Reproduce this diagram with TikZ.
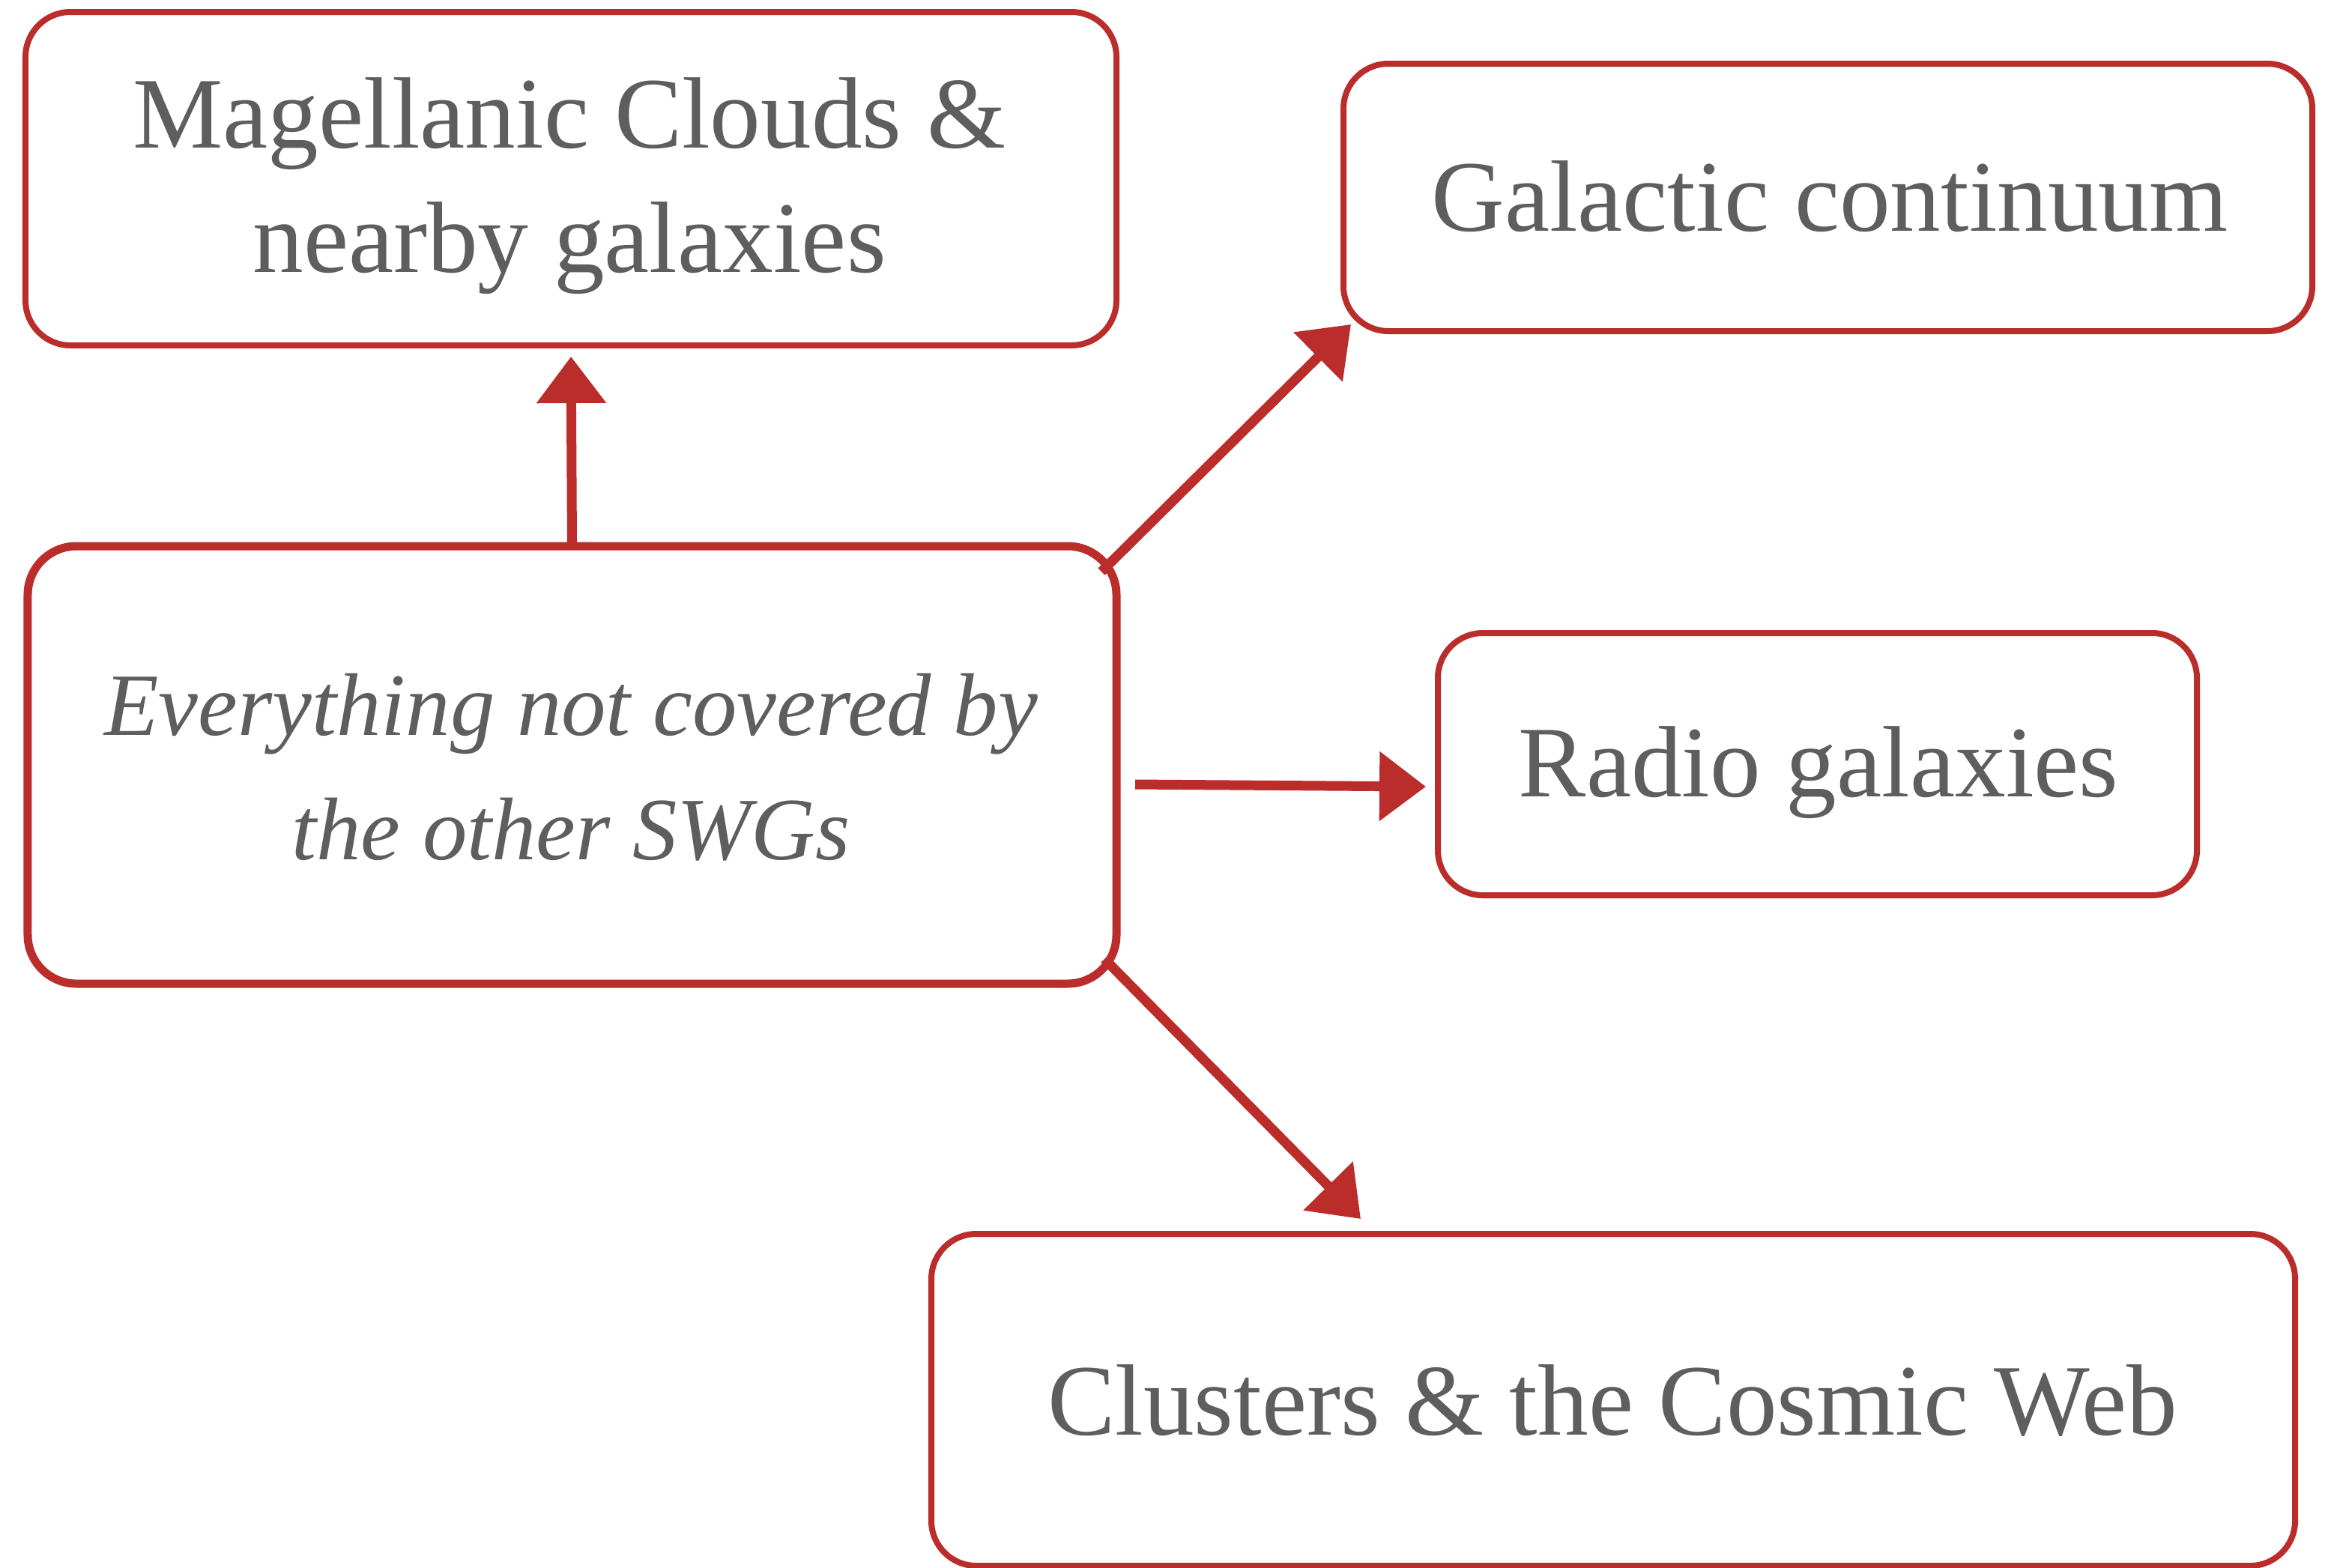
\documentclass[tikz,border=0pt]{standalone}
\usepackage{fontspec}
\setmainfont{Liberation Serif}
\usetikzlibrary{arrows.meta,calc}
\definecolor{brush}{HTML}{BA2D2B}
\definecolor{ink}{HTML}{5E5E5E}

\begin{document}
\begin{tikzpicture}[
  box/.style={draw=brush, line width=0.08cm, rounded corners=0.6cm,
              inner sep=0pt, outer sep=0pt},
  txt/.style={text=ink, font=\fontsize{38.5}{47}\selectfont, inner sep=0pt,
              align=center},
  link/.style={draw=brush, line width=0.13cm,
               -{Triangle[length=0.62cm,width=0.9cm]}},
]
\useasboundingbox (0,0) rectangle (31.15,-20.92);
\fill[white] (0,0) rectangle (31.15,-20.92);

% frames
\node[box, minimum width=14.56cm, minimum height=4.45cm] (mag) at (7.62,-2.385) {};
\node[box, minimum width=12.93cm, minimum height=3.57cm] (gal) at (24.395,-2.635) {};
\node[box, line width=0.11cm, rounded corners=0.65cm,
      minimum width=14.53cm, minimum height=5.84cm] (every) at (7.635,-10.21) {};
\node[box, minimum width=10.13cm, minimum height=3.50cm] (radio) at (24.255,-10.20) {};
\node[box, minimum width=18.20cm, minimum height=4.43cm] (clus) at (21.53,-18.685) {};

% labels (base anchor sits on the last line)
\node[txt, anchor=base] (magT) at (7.60,-3.63) {Magellanic Clouds \&\\nearby galaxies};
\node[txt, anchor=base] (galT) at (24.42,-3.08) {Galactic continuum};
\node[txt, anchor=base, font=\fontsize{33.8}{47}\selectfont\itshape] (everyT) at (7.62,-11.47)
  {Everything not covered by\\the other SWGs};
\node[txt, anchor=base] (radioT) at (24.27,-10.63) {Radio galaxies};
\node[txt, anchor=base] (clusT) at (21.52,-19.15) {Clusters \& the Cosmic Web};

% connectors
\draw[link, shorten >=0.15cm] (every.north) -- (mag.south);
\draw[link] ([shift={(-0.20,-0.34)}]every.north east) -- ([shift={(0.10,0.09)}]gal.south west);
\draw[link] ([shift={(0.25,-0.26)}]every.east) -- ([shift={(-0.16,-0.30)}]radio.west);
\draw[link] ([shift={(-0.16,0.33)}]every.south east) -- ([shift={(5.73,0.20)}]clus.north west);
\end{tikzpicture}
\end{document}
